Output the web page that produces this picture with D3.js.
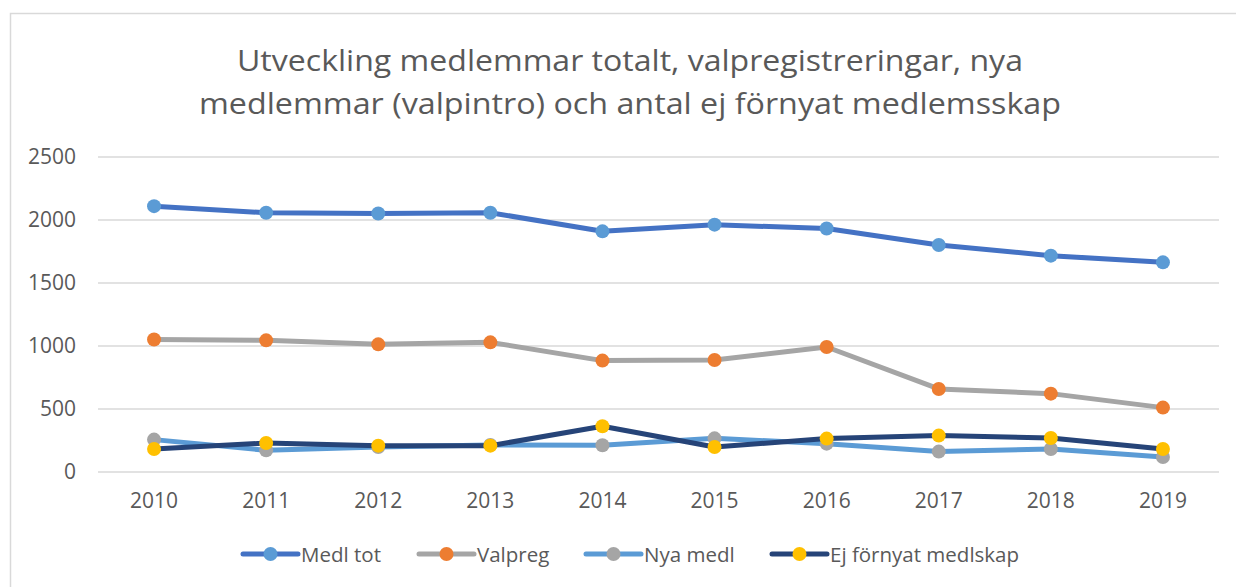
<!DOCTYPE html>
<html>
<head>
<meta charset="utf-8">
<script src="https://cdn.jsdelivr.net/npm/d3@7"></script>
<style>
  body { margin: 0; background: #fff; }
</style>
</head>
<body>
<script>
const years = ["2010", "2011", "2012", "2013", "2014", "2015", "2016", "2017", "2018", "2019"];
const medlTot = [2110, 2057, 2051, 2058, 1910, 1963, 1932, 1802, 1717, 1664];
const valpreg = [1051, 1045, 1013, 1029, 884, 889, 992, 659, 622, 511];
const nyaMedl = [257, 172, 199, 215, 212, 267, 225, 162, 183, 119];
const ejFornyat = [183, 230, 209, 209, 363, 199, 265, 289, 270, 183];
const yTicks = [0, 500, 1000, 1500, 2000, 2500];
const titleLines = [
  "Utveckling medlemmar totalt, valpregistreringar, nya",
  "medlemmar (valpintro) och antal ej förnyat medlemsskap"
];

const series = [
  { name: "Medl tot", values: medlTot, line: "#4472C4", marker: "#5B9BD5" },
  { name: "Valpreg", values: valpreg, line: "#A5A5A5", marker: "#ED7D31" },
  { name: "Nya medl", values: nyaMedl, line: "#5B9BD5", marker: "#A5A5A5" },
  { name: "Ej förnyat medlskap", values: ejFornyat, line: "#264478", marker: "#FFC000" }
];

const W = 1236, H = 587;
const margin = { top: 157, right: 17, bottom: 115, left: 98 };
const width = W - margin.left - margin.right;
const height = H - margin.top - margin.bottom;
const font = "'Open Sans', sans-serif";
const textColor = "#595959";

const svg = d3.select("body").append("svg")
  .attr("width", W)
  .attr("height", H);

// chart border (only top and left visible in the crop)
svg.append("rect")
  .attr("x", 10.5).attr("y", 13.5)
  .attr("width", W + 20).attr("height", H + 20)
  .attr("fill", "none")
  .attr("stroke", "#d9d9d9")
  .attr("stroke-width", 1.5);

svg.append("g")
  .selectAll("text")
  .data(titleLines)
  .join("text")
  .attr("x", W / 2 + 12)
  .attr("y", (d, i) => 71 + i * 43)
  .attr("text-anchor", "middle")
  .attr("font-family", font)
  .attr("font-size", 29)
  .attr("fill", textColor)
  .attr("textLength", (d, i) => i === 0 ? 786 : 862)
  .attr("lengthAdjust", "spacingAndGlyphs")
  .text(d => d);

const g = svg.append("g")
  .attr("transform", `translate(${margin.left},${margin.top})`);

const x = d3.scaleBand()
  .domain(years)
  .range([0, width]);

const y = d3.scaleLinear()
  .domain([0, 2500])
  .range([height, 0]);

// gridlines
g.append("g")
  .selectAll("line")
  .data(yTicks)
  .join("line")
  .attr("x1", 0).attr("x2", width)
  .attr("y1", d => y(d)).attr("y2", d => y(d))
  .attr("stroke", "#d9d9d9")
  .attr("stroke-width", 1.5);

const yAxis = g.append("g")
  .call(d3.axisLeft(y).tickValues(yTicks).tickFormat(d3.format("d")).tickSize(0).tickPadding(22));
yAxis.select(".domain").remove();
yAxis.selectAll("text")
  .attr("font-family", font)
  .attr("font-size", 21)
  .attr("fill", textColor);

const xAxis = g.append("g")
  .attr("transform", `translate(0,${height})`)
  .call(d3.axisBottom(x).tickSize(0).tickPadding(21));
xAxis.select(".domain").remove();
xAxis.selectAll("text")
  .attr("font-family", font)
  .attr("font-size", 21)
  .attr("fill", textColor);

const line = d3.line()
  .x((d, i) => x(years[i]) + x.bandwidth() / 2)
  .y(d => y(d));

series.forEach(s => {
  g.append("path")
    .datum(s.values)
    .attr("fill", "none")
    .attr("stroke", s.line)
    .attr("stroke-width", 5)
    .attr("stroke-linejoin", "round")
    .attr("d", line);

  g.append("g")
    .selectAll("circle")
    .data(s.values)
    .join("circle")
    .attr("cx", (d, i) => x(years[i]) + x.bandwidth() / 2)
    .attr("cy", d => y(d))
    .attr("r", 7)
    .attr("fill", s.marker);
});

// legend
const legendX = [243, 419, 586, 772];
const legend = svg.append("g")
  .attr("transform", "translate(0,554)");

series.forEach((s, i) => {
  const lg = legend.append("g")
    .attr("transform", `translate(${legendX[i]},0)`);
  lg.append("line")
    .attr("x1", 0).attr("x2", 55)
    .attr("stroke", s.line)
    .attr("stroke-width", 5)
    .attr("stroke-linecap", "round");
  lg.append("circle")
    .attr("cx", 27.5)
    .attr("r", 7)
    .attr("fill", s.marker);
  lg.append("text")
    .attr("x", 58)
    .attr("y", 7.5)
    .attr("font-family", font)
    .attr("font-size", 20.5)
    .attr("fill", textColor)
    .text(s.name);
});
</script>
</body>
</html>
